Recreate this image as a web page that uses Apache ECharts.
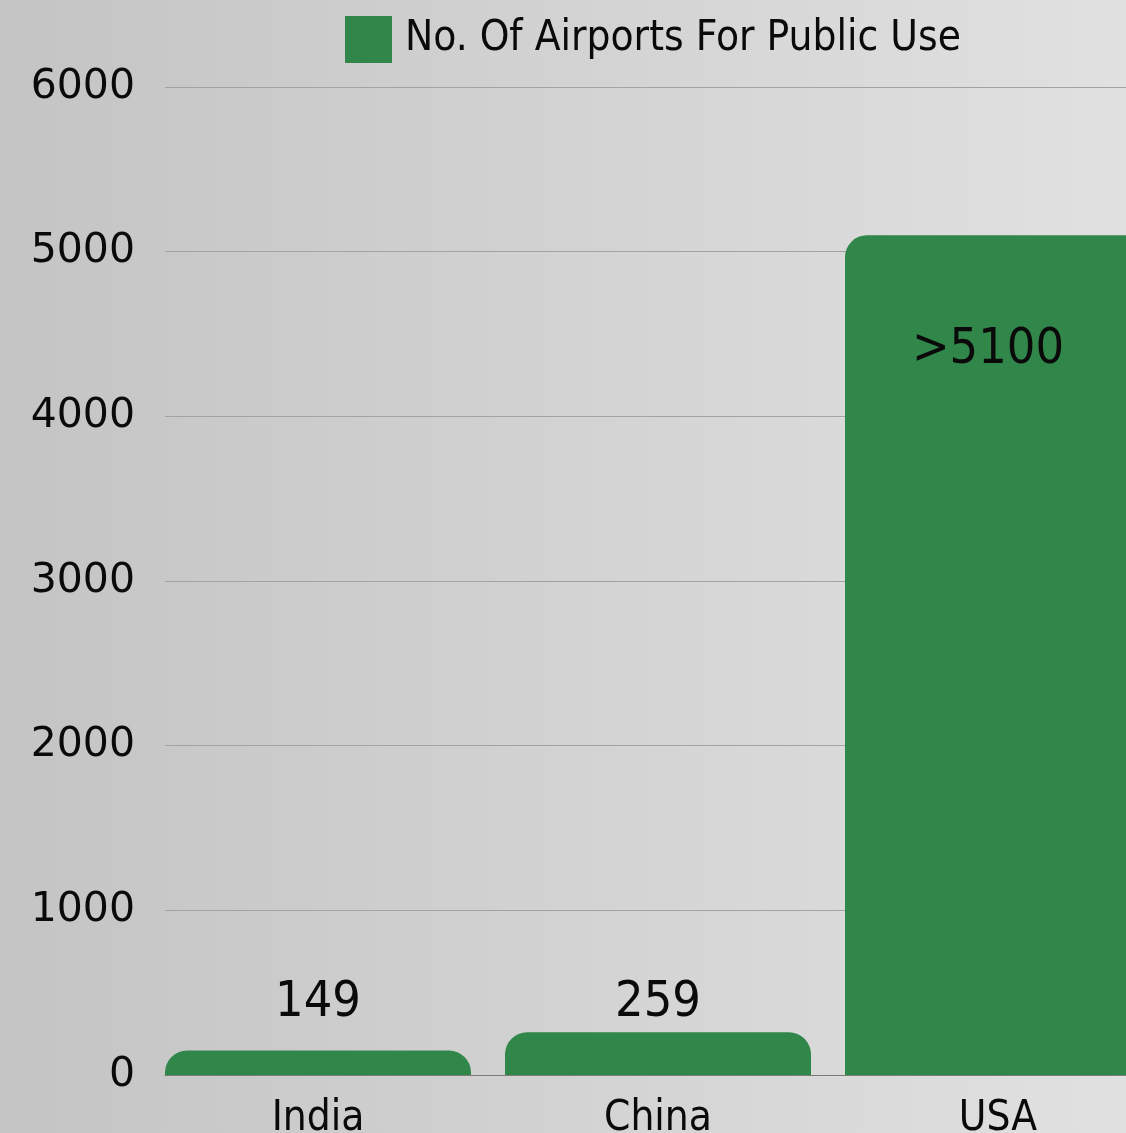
<!DOCTYPE html>
<html>
<head>
<meta charset="utf-8">
<title>Airports for public use</title>
<script src="https://cdn.jsdelivr.net/npm/echarts@6/dist/echarts.min.js"></script>
<style>
  html, body { margin: 0; padding: 0; }
  #chart { width: 1126px; height: 1133px; }
</style>
</head>
<body>
<div id="chart"></div>
<script>
  const countries = ["India", "China", "USA"];
  const airports = [149, 259, 5100];
  const valueLabels = ["149", "259", ">5100"];
  const seriesName = "No. Of Airports For Public Use";
  const yTicks = { min: 0, max: 6000, interval: 1000 };

  const GREEN = "#31874a";
  const condensed = "'Liberation Sans Narrow', 'DejaVu Sans Condensed', Roboto, sans-serif";

  // per-bar label placement, tuned to the reference
  const labelPlacement = [
    { position: "top", distance: 22 },
    { position: "top", distance: 4 },
    { position: "insideTop", distance: 90, offset: [-10, 0] }
  ];

  const chart = echarts.init(document.getElementById("chart"), null, { renderer: "canvas" });

  chart.setOption({
    animation: false,
    backgroundColor: {
      type: "linear", x: 0, y: 0, x2: 1, y2: 0,
      colorStops: [
        { offset: 0, color: "#c4c4c4" },
        { offset: 1, color: "#e1e1e1" }
      ]
    },
    legend: {
      left: 340,
      top: 11,
      itemWidth: 47,
      itemHeight: 47,
      icon: "rect",
      textStyle: { fontFamily: condensed, fontSize: 42, color: "#0a0a0a", padding: [0, 0, 0, 8] },
      data: [seriesName]
    },
    grid: [
      // bars: bands of 340px, first one starts 17px left of the gridlines
      { left: 148, top: 87, width: 1020, height: 988, outerBoundsMode: "none" },
      // gridlines and y labels
      { left: 165, top: 87, right: 0, height: 988, outerBoundsMode: "none" }
    ],
    xAxis: [
      {
        gridIndex: 0,
        type: "category",
        data: countries,
        axisLine: { show: false },
        axisTick: { show: false },
        axisLabel: { fontFamily: condensed, fontSize: 42, color: "#0a0a0a", margin: 23 }
      },
      {
        gridIndex: 1,
        type: "value",
        min: 0,
        max: 1,
        axisLine: { show: true, lineStyle: { color: "#7a7a7a", width: 1 } },
        axisTick: { show: false },
        axisLabel: { show: false },
        splitLine: { show: false }
      }
    ],
    yAxis: [
      {
        gridIndex: 0,
        type: "value",
        min: yTicks.min,
        max: yTicks.max,
        interval: yTicks.interval,
        show: false
      },
      {
        gridIndex: 1,
        type: "value",
        min: yTicks.min,
        max: yTicks.max,
        interval: yTicks.interval,
        axisLine: { show: false },
        axisTick: { show: false },
        axisLabel: {
          fontFamily: "'DejaVu Sans', sans-serif",
          fontSize: 41,
          color: "#0a0a0a",
          margin: 30,
          padding: [4, 0, 0, 0],
          formatter: (v) => String(v)
        },
        splitLine: { show: true, lineStyle: { color: "#a3a3a3", width: 1 } }
      }
    ],
    series: [
      {
        name: seriesName,
        type: "bar",
        xAxisIndex: 0,
        yAxisIndex: 0,
        z: 5,
        barCategoryGap: "10%",
        itemStyle: { color: GREEN, borderRadius: [22, 22, 0, 0] },
        data: airports.map((v, i) => ({
          value: v,
          label: {
            show: true,
            formatter: valueLabels[i],
            fontFamily: condensed,
            fontSize: 50,
            color: "#0a0a0a",
            ...labelPlacement[i]
          }
        }))
      }
    ]
  });
</script>
</body>
</html>
